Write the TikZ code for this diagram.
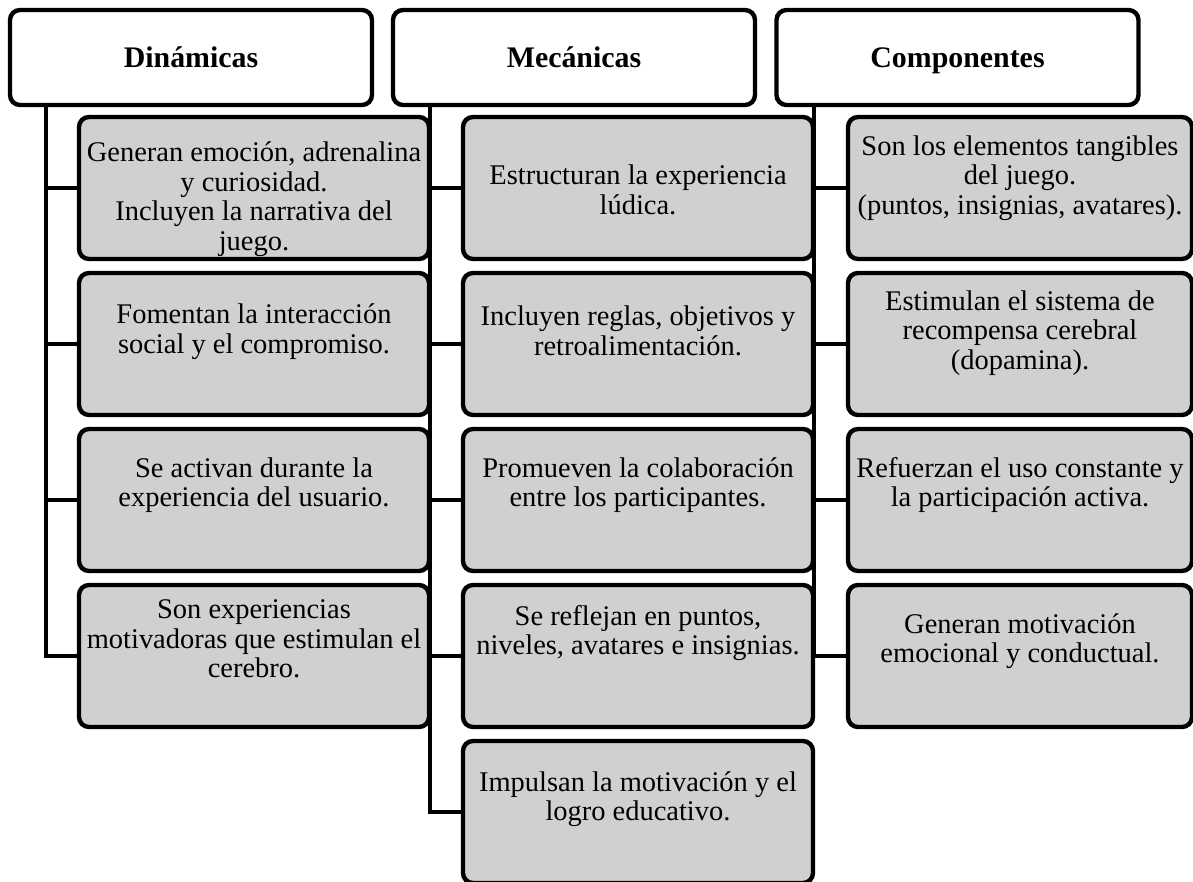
\documentclass[tikz,border=0pt]{standalone}
\usepackage{fontspec}
\setmainfont{Liberation Serif}
\usepackage{tikz}

\definecolor{itemGray}{RGB}{208,208,208}

\begin{document}
\begin{tikzpicture}
            \tikzset{head/.style={draw, line width=2.5pt, rounded corners=0.2cm, fill=white, minimum width=7.24cm, minimum height=1.9cm, text height=1.1em, text depth=0pt, font=\fontsize{17}{17.5}\selectfont\bfseries},
                     item/.style={draw, line width=2.5pt, rounded corners=0.2cm, fill=itemGray, minimum width=7cm, minimum height=2.84cm, inner sep=0pt, font=\fontsize{16.2}{16.8}\selectfont},
                     link/.style={line width=2.5pt}}

            \useasboundingbox (0,0) rectangle (23.86,-17.64);

            % trunks
            \coordinate (dtrunk) at (0.92,0);
            \coordinate (mtrunk) at (8.6,0);
            \coordinate (ctrunk) at (16.28,0);

            \node[head] (dyn) at (3.82,-1.15) {Dinámicas};
            \node[head] (mec) at (11.48,-1.15) {Mecánicas};
            \node[head] (comp) at (19.15,-1.15) {Componentes};

            % Dinamicas
            \node[item] (d1) at (5.08,-3.76) {\begin{minipage}[t][2.84cm][c]{6.9cm}\centering\vspace*{0.44cm}
                Generan emoción, adrenalina\\ y curiosidad.\\ Incluyen la narrativa del\\ juego.\par\end{minipage}};
            \node[item] (d2) at (5.08,-6.88) {\begin{minipage}[t][2.84cm][c]{6.9cm}\centering
                Fomentan la interacción\\ social y el compromiso.\par\vspace{0.5cm}\end{minipage}};
            \node[item] (d3) at (5.08,-10.0) {\begin{minipage}[t][2.84cm][c]{6.9cm}\centering
                Se activan durante la\\ experiencia del usuario.\par\vspace{0.6cm}\end{minipage}};
            \node[item] (d4) at (5.08,-13.12) {\begin{minipage}[t][2.84cm][c]{6.9cm}\centering
                Son experiencias\\ motivadoras que estimulan el\\ cerebro.\par\vspace{0.68cm}\end{minipage}};

            % Mecanicas
            \node[item] (m1) at (12.76,-3.76) {\begin{minipage}[t][2.84cm][c]{6.9cm}\centering\vspace*{0.08cm}
                Estructuran la experiencia\\ lúdica.\par\end{minipage}};
            \node[item] (m2) at (12.76,-6.88) {\begin{minipage}[t][2.84cm][c]{6.9cm}\centering
                Incluyen reglas, objetivos y\\ retroalimentación.\par\vspace{0.52cm}\end{minipage}};
            \node[item] (m3) at (12.76,-10.0) {\begin{minipage}[t][2.84cm][c]{6.9cm}\centering
                Promueven la colaboración\\ entre los participantes.\par\vspace{0.6cm}\end{minipage}};
            \node[item] (m4) at (12.76,-13.12) {\begin{minipage}[t][2.84cm][c]{6.9cm}\centering
                Se reflejan en puntos,\\ niveles, avatares e insignias.\par\vspace{0.92cm}\end{minipage}};
            \node[item] (m5) at (12.76,-16.24) {\begin{minipage}[t][2.84cm][c]{6.9cm}\centering
                Impulsan la motivación y el\\ logro educativo.\par\vspace{0.52cm}\end{minipage}};

            % Componentes
            \node[item, minimum width=6.88cm] (c1) at (20.4,-3.76) {\begin{minipage}[t][2.84cm][c]{6.8cm}\centering
                Son los elementos tangibles\\ del juego.\\ (puntos, insignias, avatares).\par\vspace{0.4cm}\end{minipage}};
            \node[item, minimum width=6.88cm] (c2) at (20.4,-6.88) {\begin{minipage}[t][2.84cm][c]{6.8cm}\centering
                Estimulan el sistema de\\ recompensa cerebral\\ (dopamina).\par\vspace{0.44cm}\end{minipage}};
            \node[item, minimum width=6.88cm] (c3) at (20.4,-10.0) {\begin{minipage}[t][2.84cm][c]{6.8cm}\centering
                Refuerzan el uso constante y\\ la participación activa.\par\vspace{0.6cm}\end{minipage}};
            \node[item, minimum width=6.88cm] (c4) at (20.4,-13.12) {\begin{minipage}[t][2.84cm][c]{6.8cm}\centering
                Generan motivación\\ emocional y conductual.\par\vspace{0.6cm}\end{minipage}};

            % connectors
            \draw[link] (dyn.south -| dtrunk) |- (d4.west);
            \draw[link] (mec.south -| mtrunk) |- (m5.west);
            \draw[link] (comp.south -| ctrunk) |- (c4.west);
            \foreach \i in {1,2,3} {
                \draw[link] (d\i.west -| dtrunk) -- (d\i.west);
                \draw[link] (c\i.west -| ctrunk) -- (c\i.west);
            }
            \foreach \i in {1,2,3,4}
                \draw[link] (m\i.west -| mtrunk) -- (m\i.west);
        \end{tikzpicture}
\end{document}
